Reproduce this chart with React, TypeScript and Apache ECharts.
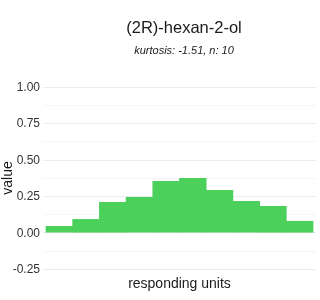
import React, { useEffect, useRef } from "react";
import * as echarts from "echarts";

const positions = [1, 2, 3, 4, 5, 6, 7, 8, 9, 10];
const values = [0.045, 0.093, 0.21, 0.245, 0.354, 0.375, 0.293, 0.217, 0.183, 0.08];
const yTicks = { min: -0.25, max: 1.0, interval: 0.25 };
const titleText = "(2R)-hexan-2-ol";
const subtitleText = "kurtosis: -1.51, n: 10";

export default function App() {
  const ref = useRef<HTMLDivElement>(null);
  useEffect(() => {
    if (!ref.current) return;
    const chart = echarts.init(ref.current, undefined, { renderer: "svg" });
    const font = "Liberation Sans";
    chart.setOption({
      animation: false,
      textStyle: { fontFamily: font },
      title: {
        text: titleText,
        subtext: subtitleText,
        left: 179,
        textAlign: "center",
        top: 13,
        itemGap: 9,
        textStyle: { fontSize: 16.5, fontWeight: "normal", color: "#1a1a1a", fontFamily: font },
        subtextStyle: { fontSize: 11, fontStyle: "italic", color: "#1a1a1a", fontFamily: font },
      },
      grid: { left: 43, right: 4, top: 87, bottom: 31, containLabel: false, outerBoundsMode: "none" },
      xAxis: {
        type: "value",
        min: 0.3875,
        max: 10.6125,
        axisLine: { show: false },
        axisTick: { show: false },
        axisLabel: { show: false },
        splitLine: { show: false },
        name: "responding units",
        nameLocation: "middle",
        nameGap: 7,
        nameMoveOverlap: false,
        nameTextStyle: { fontSize: 14, color: "#1a1a1a", fontFamily: font },
      },
      yAxis: {
        type: "value",
        min: yTicks.min,
        max: yTicks.max,
        interval: yTicks.interval,
        axisLine: { show: false },
        axisTick: { show: false },
        axisLabel: {
          formatter: (v: number) => v.toFixed(2),
          fontSize: 12,
          color: "#333333",
          margin: 3,
          fontFamily: font,
        },
        splitLine: { lineStyle: { color: "#ebebeb", width: 1 } },
        minorTick: { show: false, splitNumber: 2 },
        minorSplitLine: { show: true, lineStyle: { color: "#f5f5f5", width: 1 } },
        name: "value",
        nameLocation: "middle",
        nameGap: 29,
        nameRotate: 90,
        nameMoveOverlap: false,
        nameTextStyle: { fontSize: 14, color: "#1a1a1a", fontFamily: font },
      },
      series: [
        {
          type: "bar",
          data: positions.map((p, i) => [p, values[i]]),
          barWidth: 27.4,
          itemStyle: { color: "#4bd05b" },
        },
      ],
    });
    return () => chart.dispose();
  }, []);
  return (
    <div
      ref={ref}
      style={{ position: "fixed", left: 0, top: 0, width: 320, height: 300 }}
    />
  );
}
